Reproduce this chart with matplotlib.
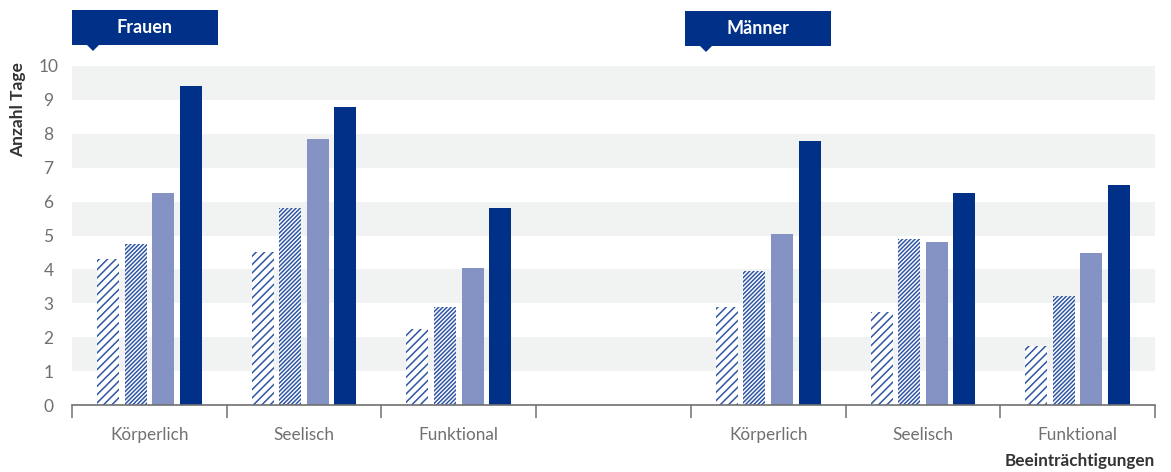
import matplotlib
matplotlib.use("Agg")
import matplotlib.pyplot as plt
from matplotlib.patches import Rectangle, Polygon

categories = ["Körperlich", "Seelisch", "Funktional", "", "Körperlich", "Seelisch", "Funktional"]
panels = ["Frauen", "Männer"]

# four series per category (slot 4 is an empty spacer)
series_a = [4.3, 4.5, 2.25, None, 2.9, 2.75, 1.75]
series_b = [4.75, 5.8, 2.9, None, 3.95, 4.9, 3.22]
series_c = [6.25, 7.85, 4.05, None, 5.05, 4.8, 4.48]
series_d = [9.4, 8.8, 5.8, None, 7.8, 6.25, 6.5]

yticks = list(range(0, 11))

DARK = "#003087"
LIGHT = "#8592c4"
HATCH = "#2f55a4"
BAND = "#f1f2f2"
GREY = "#707070"

plt.rcParams["font.family"] = ["Lato", "DejaVu Sans"]
plt.rcParams["hatch.linewidth"] = 1.1

fig = plt.figure(figsize=(11.71, 4.72), dpi=100)
ax = fig.add_axes([72 / 1171, 1 - 405 / 472, (1155 - 72) / 1171, (405 - 66) / 472])

for lo in range(1, 10, 2):
    ax.axhspan(lo, lo + 1, color=BAND, zorder=0, lw=0)

width = 0.142
step = 0.178
styles = [
    dict(facecolor="white", edgecolor=HATCH, hatch="////", linewidth=0),
    dict(facecolor="white", edgecolor=HATCH, hatch="////////", linewidth=0),
    dict(facecolor=LIGHT, linewidth=0),
    dict(facecolor=DARK, linewidth=0),
]
for k, (vals, st) in enumerate(zip([series_a, series_b, series_c, series_d], styles)):
    xs = [i + 0.5 + (k - 1.5) * step for i, v in enumerate(vals) if v is not None]
    ys = [v for v in vals if v is not None]
    ax.bar(xs, ys, width=width, zorder=2, **st)

ax.set_xlim(0, 7)
ax.set_ylim(0, 10)
ax.set_yticks(yticks)
ax.set_yticklabels([str(t) for t in yticks], ha="center")
ax.tick_params(axis="y", length=0, pad=17, labelsize=12.5, labelcolor=GREY)

ax.set_xticks([i + 0.5 for i in range(7)])
ax.set_xticklabels(categories)
ax.set_xticks(range(8), minor=True)
ax.tick_params(axis="x", which="major", length=0, pad=16, labelsize=12.3, labelcolor=GREY)
ax.tick_params(axis="x", which="minor", length=9, width=1.1, color=GREY, direction="out")

for s in ["left", "top", "right"]:
    ax.spines[s].set_visible(False)
ax.spines["bottom"].set_color(GREY)
ax.spines["bottom"].set_linewidth(1.2)
ax.spines["bottom"].set_zorder(3)

# header boxes with little pointer
def header(x0, y0, text):
    W, H = 1171, 472
    w, h = 146, 35
    fig.patches.append(Rectangle((x0 / W, 1 - (y0 + h) / H), w / W, h / H,
                                 transform=fig.transFigure, facecolor=DARK, lw=0))
    tx = x0 + 21
    fig.patches.append(Polygon([((tx - 6) / W, 1 - (y0 + h) / H), ((tx + 6) / W, 1 - (y0 + h) / H),
                                (tx / W, 1 - (y0 + h + 6) / H)],
                               closed=True, transform=fig.transFigure, facecolor=DARK, lw=0))
    fig.text((x0 + w / 2) / W, 1 - (y0 + h / 2) / H, text, color="white", fontsize=13,
             fontweight="bold", ha="center", va="center")

header(72, 10, panels[0])
header(685, 11, panels[1])

fig.text(18 / 1171, 1 - 110 / 472, "Anzahl Tage", rotation=90, ha="center", va="center",
         fontsize=12.5, fontweight="bold", color="#333333")
fig.text(1155 / 1171, 1 - 461 / 472, "Beeinträchtigungen", ha="right", va="center",
         fontsize=12.3, fontweight="bold", color="#333333")

fig.savefig("out.png", dpi=100)
